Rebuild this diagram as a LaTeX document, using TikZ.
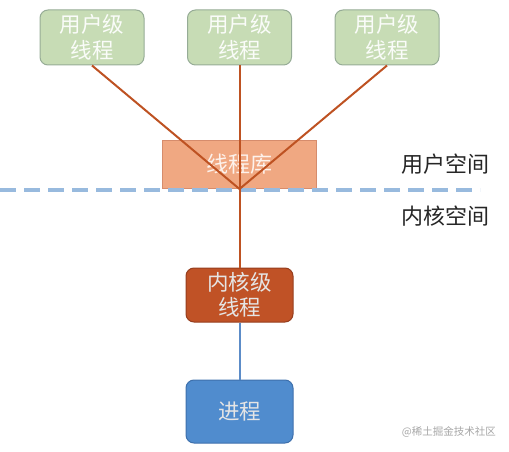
\documentclass[tikz,border=0pt]{standalone}
\usepackage{fontspec}
\setmainfont{Noto Sans CJK SC}
\usetikzlibrary{positioning}
\definecolor{ulgreen}{RGB}{199,220,181}
\definecolor{ulborder}{RGB}{150,172,150}
\definecolor{libfill}{RGB}{240,168,130}
\definecolor{libborder}{RGB}{214,140,108}
\definecolor{klfill}{RGB}{192,82,38}
\definecolor{klborder}{RGB}{150,62,30}
\definecolor{procfill}{RGB}{80,140,206}
\definecolor{procborder}{RGB}{62,112,172}
\definecolor{linkbrown}{RGB}{190,82,34}
\definecolor{linkblue}{RGB}{92,140,200}
\definecolor{sepblue}{RGB}{152,186,222}

\begin{document}
\begin{tikzpicture}[x=1pt,y=1pt,yscale=-1,
  ubox/.style={draw=ulborder,fill=ulgreen,rounded corners=8pt,line width=1pt,
    minimum width=104pt,minimum height=55pt,inner sep=0pt,align=center,
    text=white!92!ulgreen,font=\fontsize{21.5}{25.5}\selectfont},
  kbox/.style={rounded corners=8pt,line width=1pt,minimum width=107pt,
    inner sep=0pt,align=center,text=white!90!black,font=\fontsize{21.5}{24.5}\selectfont},
  link/.style={draw=linkbrown,line width=2pt},
  space/.style={font=\fontsize{22}{26}\selectfont,text=black!85}]
\useasboundingbox (0,0) rectangle (509,452);

% user level threads
\node[ubox] (ut1) at (92,37.5) {用户级\\线程};
\node[ubox] (ut2) at (239.5,37.5) {用户级\\线程};
\node[ubox] (ut3) at (387,37.5) {用户级\\线程};

% thread library
\node[draw=libborder,fill=libfill,line width=1pt,minimum width=154pt,minimum height=48pt,
  inner sep=0pt,text=white!85!libfill,font=\fontsize{22}{26}\selectfont] (lib) at (239,164) {线程库};
\coordinate (hub) at (239.5,189);

% separator
\draw[sepblue,line width=4pt,dash pattern=on 16pt off 8pt] (0,190) -- (480,190);
\node[space,anchor=west,inner sep=0pt] (uspace) at (401,164) {用户空间};
\node[space,anchor=west,inner sep=0pt] (kspace) at (401,216) {内核空间};

% kernel thread and process
\node[kbox,draw=klborder,fill=klfill,minimum height=54pt] (kt) at (239.5,295) {内核级\\线程};
\node[kbox,draw=procborder,fill=procfill,minimum height=63pt] (proc) at (239.5,411.5) {进程};

% connectors
\draw[link] (ut1.south) -- (hub);
\draw[link] (ut2.south) -- (hub);
\draw[link] (ut3.south) -- (hub);
\draw[link] (hub) -- (kt.north);
\draw[draw=linkblue,line width=2pt] (kt.south) -- (proc.north);

% watermark
\node[anchor=east,inner sep=0pt,text=black!35,font=\fontsize{10.5}{12}\selectfont] (mark) at (496,432) {@稀土掘金技术社区};
\end{tikzpicture}
\end{document}
